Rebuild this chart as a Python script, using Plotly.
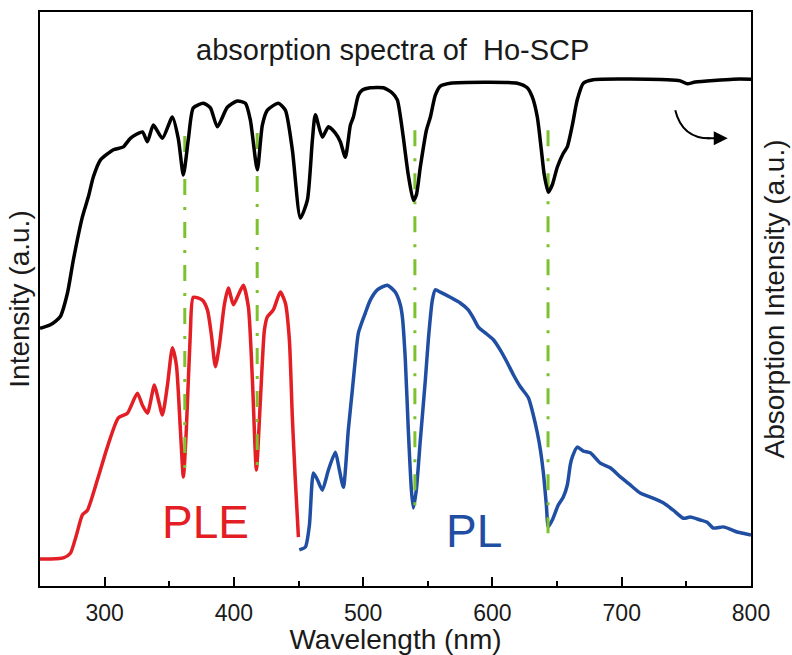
import plotly.graph_objects as go

# ---- Absorption spectrum (black, right axis) ----
abs_wl = [250, 258.0, 265.6, 271.2, 275.8, 282.8, 287.4, 291.3, 296.7, 306.8, 314.5, 319.9,
          329.2, 333.1, 337.7, 344.7, 352.4, 357.0, 360.9, 364.8, 368.6, 376.4, 381.8, 387.2,
          394.9, 402.6, 408.9, 412.7, 418.1, 422.0, 425.9, 434.4, 439.8, 445.2, 451.4, 456.8,
          460.7, 463.0, 468.4, 473.1, 478.5, 482.3, 486.2, 490.1, 492.4, 496.3, 499.4, 505.5,
          515.6, 522.5, 526.4, 530.3, 534.9, 538.8, 541.1, 544.2, 548.9, 552.0, 555.8, 559.7,
          567.4, 619.2, 626.9, 630.8, 634.7, 637.8, 640.1, 643.2, 646.3, 650.2, 654.8, 657.9,
          661.8, 665.6, 670.3, 678.0, 735.2, 745.3, 750.7, 756.9, 786.3, 800]
abs_int = [44.9, 45.5, 46.9, 51.0, 56.8, 64.3, 67.8, 71.3, 74.2, 76.0, 76.5, 78.0,
           79.1, 77.4, 80.3, 78.0, 81.7, 77.9, 71.6, 77.9, 83.3, 84.1, 83.3, 80.0,
           83.4, 84.5, 84.1, 81.2, 72.5, 80.3, 82.9, 84.1, 82.9, 76.0, 64.1, 67.2,
           77.7, 82.1, 78.2, 80.0, 78.9, 77.4, 74.7, 80.3, 81.7, 85.5, 86.4, 86.8,
           86.8, 85.9, 84.7, 79.4, 71.6, 67.2, 68.1, 73.0, 79.4, 81.7, 85.5, 87.1,
           87.6, 87.6, 86.8, 85.2, 81.7, 76.0, 71.6, 68.6, 69.9, 73.0, 75.4, 76.5,
           80.3, 84.7, 87.6, 88.2, 88.2, 88.0, 87.5, 87.8, 88.3, 88.3]

# ---- PLE spectrum (red) ----
ple_wl = [250, 258.0, 268.1, 273.5, 278.2, 282.8, 286.7, 294.4, 302.1, 310.6, 317.6, 325.3,
          329.2, 333.1, 338.5, 341.6, 344.7, 348.6, 352.4, 355.5, 358.6, 360.9, 363.2, 366.3,
          368.6, 375.6, 379.5, 382.6, 385.7, 388.8, 392.6, 395.7, 399.6, 403.4, 407.3, 411.2,
          414.3, 417.4, 420.5, 423.6, 425.9, 430.5, 435.9, 439.8, 442.9, 445.2, 447.5, 449.9]
ple_int = [4.7, 4.7, 4.9, 5.7, 8.9, 12.4, 13.2, 18.5, 24.2, 29.3, 30.1, 33.6,
           31.5, 30.1, 35.0, 32.4, 29.8, 35.0, 41.5, 38.5, 27.2, 19.0, 27.2, 44.1,
           50.3, 49.8, 48.1, 43.7, 38.2, 42.0, 49.0, 51.9, 49.0, 50.7, 52.4, 48.6,
           35.9, 20.2, 32.4, 44.6, 46.9, 48.1, 51.2, 49.3, 42.9, 29.4, 18.5, 8.5]

# ---- PL spectrum (blue) ----
pl_wl = [450.6, 455.3, 458.4, 461.5, 464.6, 468.4, 473.1, 478.5, 481.6, 484.7, 488.5, 491.6,
         493.9, 496.3, 501.7, 505.5, 510.9, 518.7, 524.8, 528.7, 530.3, 532.6, 534.9, 537.3,
         538.8, 541.1, 544.2, 548.1, 550.4, 553.5, 555.8, 559.7, 567.4, 575.1, 581.3, 585.2,
         589.1, 594.5, 600.7, 606.1, 611.5, 616.2, 621.6, 627.8, 631.6, 634.7, 637.1, 639.4,
         641.7, 643.2, 646.3, 650.9, 654.8, 657.9, 660.2, 661.8, 665.6, 670.3, 675.7, 683.4,
         691.1, 698.9, 706.6, 714.3, 722.1, 732.1, 739.9, 747.6, 753.0, 760.7, 766.1, 770.8,
         778.5, 783.9, 789.3, 795.5, 800]
pl_int = [6.3, 6.8, 10.6, 19.7, 18.5, 16.7, 20.2, 23.3, 20.2, 17.2, 27.2, 34.1,
          39.4, 44.1, 47.6, 49.8, 51.6, 52.4, 51.2, 49.0, 46.9, 39.4, 27.2, 16.7,
          13.6, 16.7, 25.4, 35.9, 42.9, 49.8, 51.6, 51.2, 50.3, 49.3, 48.1, 46.7,
          45.1, 44.1, 42.9, 41.1, 38.9, 36.8, 34.7, 32.8, 29.8, 26.7, 23.7, 19.7,
          14.1, 10.3, 11.5, 14.1, 15.5, 17.6, 21.1, 22.5, 24.2, 23.5, 23.2, 21.4,
          20.6, 19.0, 17.6, 16.2, 15.5, 14.5, 13.2, 11.8, 12.0, 11.5, 11.1, 10.1,
          10.3, 9.9, 9.4, 9.1, 8.9]

# ---- Guide lines (green) ----
guide_wl = [362, 418, 540, 643]
guide_top = [78.4, 78.9, 79.4, 79.4]
guide_bottom = [19.0, 20.2, 12.0, 9.2]

x_ticks = [300, 400, 500, 600, 700, 800]

FONT = "Arial, Liberation Sans, sans-serif"
TXT = "#1a1a1a"
BLACK = "#000000"
RED = "#e31e24"
BLUE = "#1f4ea3"
GREEN = "#7dc12f"

fig = go.Figure()
fig.add_trace(go.Scatter(x=ple_wl, y=ple_int, mode="lines",
                         line=dict(color=RED, width=3.5, shape="spline", smoothing=0.6),
                         showlegend=False))
fig.add_trace(go.Scatter(x=pl_wl, y=pl_int, mode="lines",
                         line=dict(color=BLUE, width=3.5, shape="spline", smoothing=0.6),
                         showlegend=False))
fig.add_trace(go.Scatter(x=abs_wl, y=abs_int, mode="lines",
                         line=dict(color=BLACK, width=3.5, shape="spline", smoothing=0.6),
                         yaxis="y2", showlegend=False))
for wl, top, bot in zip(guide_wl, guide_top, guide_bottom):
    fig.add_trace(go.Scatter(x=[wl, wl], y=[top, bot], mode="lines",
                             line=dict(color=GREEN, width=3, dash="16px,12px,3px,12px"),
                             showlegend=False))

# curved arrow near the absorption curve
fig.add_shape(type="path", xref="x", yref="y",
              path="M 741.4 82.9 Q 746.8 78.0 768 78.0",
              line=dict(color=BLACK, width=2))
fig.add_annotation(x=782, y=78.0, ax=765, ay=78.0, xref="x", yref="y", axref="x", ayref="y",
                   text="", showarrow=True, arrowhead=2, arrowsize=1.4, arrowwidth=2,
                   arrowcolor=BLACK)

fig.add_annotation(x=522.5, y=93.4, xref="x", yref="y", text="absorption spectra of  Ho-SCP",
                   showarrow=False, font=dict(family=FONT, size=29, color=TXT))
fig.add_annotation(x=378, y=11.1, xref="x", yref="y", text="PLE", showarrow=False,
                   font=dict(family=FONT, size=46, color=RED))
fig.add_annotation(x=586, y=9.6, xref="x", yref="y", text="PL", showarrow=False,
                   font=dict(family=FONT, size=46, color=BLUE))

fig.update_layout(
    width=792, height=655,
    margin=dict(l=40, r=41, t=12, b=69),
    paper_bgcolor="white", plot_bgcolor="white",
    font=dict(family=FONT, color=TXT),
    xaxis=dict(range=[250, 800], tickvals=x_ticks, ticktext=[str(v) for v in x_ticks],
               ticks="inside", ticklen=9, tickwidth=2, tickcolor=BLACK, ticklabelstandoff=5,
               minor=dict(dtick=50, tick0=250, ticks="inside", ticklen=5, tickwidth=2, tickcolor=BLACK),
               showline=True, linewidth=2, linecolor=BLACK, mirror=True,
               showgrid=False, zeroline=False, automargin=False,
               tickfont=dict(family=FONT, size=23, color=TXT),
               title=dict(text="Wavelength (nm)", font=dict(family=FONT, size=28, color=TXT),
                          standoff=4)),
    yaxis=dict(range=[0, 100], showticklabels=False, ticks="", showline=True, linewidth=2,
               linecolor=BLACK, mirror=True, showgrid=False, zeroline=False, automargin=False,
               title=dict(text="Intensity (a.u.)", font=dict(family=FONT, size=28, color=TXT),
                          standoff=0)),
    yaxis2=dict(range=[0, 100], overlaying="y", side="right", showticklabels=False, ticks="",
                showline=True, linewidth=2, linecolor=BLACK, showgrid=False, zeroline=False,
                automargin=False,
                title=dict(text="Absorption Intensity (a.u.)",
                           font=dict(family=FONT, size=28, color=TXT), standoff=12)),
)

fig.write_html("out.html")
